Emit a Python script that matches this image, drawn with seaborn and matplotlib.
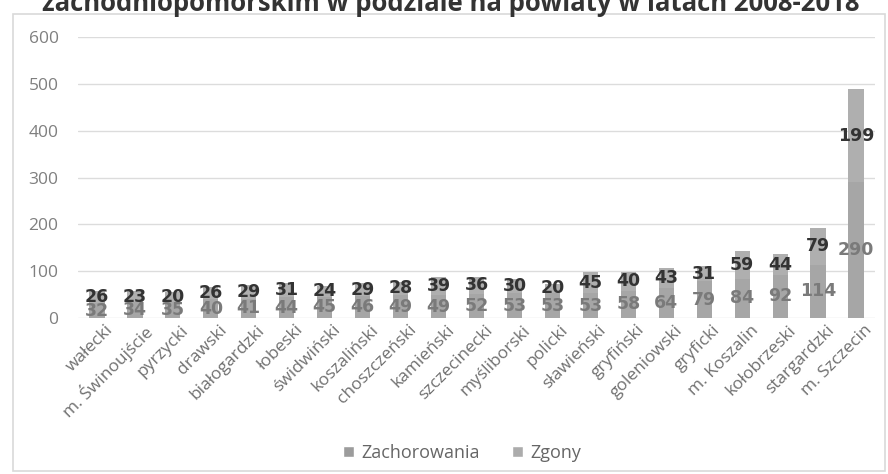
import matplotlib
matplotlib.use("Agg")
import matplotlib.pyplot as plt
import matplotlib.transforms as mtransforms
import seaborn as sns
import pandas as pd
from matplotlib.patches import Rectangle, Patch

powiaty = ["wałecki", "m. Świnoujście", "pyrzycki", "drawski", "białogardzki",
           "łobeski", "świdwiński", "koszaliński", "choszczeński", "kamieński",
           "szczecinecki", "myśliborski", "policki", "sławieński", "gryfiński",
           "goleniowski", "gryficki", "m. Koszalin", "kołobrzeski", "stargardzki",
           "m. Szczecin"]
zachorowania = [32, 34, 35, 40, 41, 44, 45, 46, 49, 49, 52, 53, 53, 53, 58, 64, 79, 84, 92, 114, 290]
zgony = [26, 23, 20, 26, 29, 31, 24, 29, 28, 39, 36, 30, 20, 45, 40, 43, 31, 59, 44, 79, 199]
y_ticks = [0, 100, 200, 300, 400, 500, 600]
title = "zachodniopomorskim w podziale na powiaty w latach 2008-2018"

df = pd.DataFrame({"powiat": powiaty, "Zachorowania": zachorowania, "Zgony": zgony})
df["total"] = df["Zachorowania"] + df["Zgony"]

sns.set_theme(style="white")
plt.rcParams["font.family"] = ["Open Sans", "DejaVu Sans"]

fig = plt.figure(figsize=(8.88, 4.74), dpi=100)
ax = fig.add_axes([78/888, 1-318/474, (875-78)/888, (318-37)/474])

c_zach = "#a6a6a6"
c_zg = "#afafaf"
sns.barplot(data=df, x="powiat", y="total", color=c_zg, saturation=1, width=0.4,
            linewidth=0, edgecolor="none", ax=ax, zorder=3)
sns.barplot(data=df, x="powiat", y="Zachorowania", color=c_zach, saturation=1, width=0.4,
            linewidth=0, edgecolor="none", ax=ax, zorder=3)

ax.set_ylim(0, 600)
ax.set_xlim(-0.5, len(powiaty) - 0.5)
ax.set_yticks(y_ticks)
ax.set_yticklabels([str(t) for t in y_ticks], fontsize=12.5, color="#7f7f7f")
ax.tick_params(axis="y", length=0, pad=14)
ax.tick_params(axis="x", length=0, pad=0)
ax.set_xticks(range(len(powiaty)))
ax.set_xticklabels(powiaty, rotation=45, ha="right", rotation_mode="anchor",
                   fontsize=12.5, color="#707070")
offset = mtransforms.ScaledTranslation(8/100, -4/100, fig.dpi_scale_trans)
for lbl in ax.get_xticklabels():
    lbl.set_transform(lbl.get_transform() + offset)
ax.set_xlabel("")
ax.set_ylabel("")
ax.grid(axis="y", color="#dcdcdc", linewidth=1, zorder=0)
for s in ax.spines.values():
    s.set_visible(False)

for i, (a, b) in enumerate(zip(zachorowania, zgony)):
    ax.text(i, a / 2, str(a), ha="center", va="center", fontsize=12.5,
            fontweight="bold", color="#7a7a7a", family="DejaVu Sans", zorder=4)
    ax.text(i, a + b / 2, str(b), ha="center", va="center", fontsize=12.5,
            fontweight="bold", color="#333333", family="DejaVu Sans", zorder=4)

handles = [Patch(facecolor="#9c9c9c", label="Zachorowania"),
           Patch(facecolor="#acacac", label="Zgony")]
fig.legend(handles=handles, loc="center", bbox_to_anchor=(462/888, 1-453/474),
           ncol=2, frameon=False, fontsize=13, handlelength=0.6, handleheight=0.6,
           columnspacing=1.8, handletextpad=0.4, labelcolor="#666666")

fig.patches.append(Rectangle((13/888, 1-471/474), (885-13)/888, (471-14)/474,
                             transform=fig.transFigure, fill=False,
                             edgecolor="#d9d9d9", linewidth=1.2))
fig.text(451/888, 1-11/474, title, ha="center", va="baseline", fontsize=18.5,
         fontweight="bold", color="#333333")

fig.savefig("out.png", dpi=100)
